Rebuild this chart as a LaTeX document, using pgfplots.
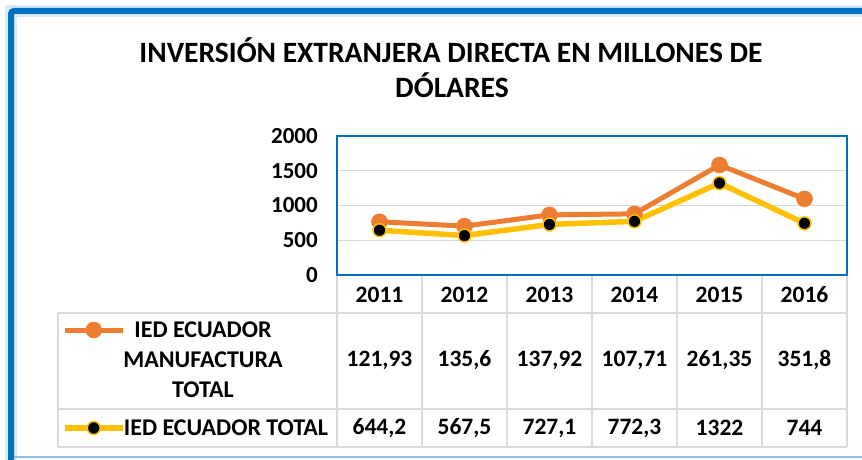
\documentclass[border=0pt]{standalone}
\usepackage{fontspec}
\setmainfont{Carlito}
\usepackage{pgfplots}
\pgfplotsset{compat=1.18}
\definecolor{frameblue}{HTML}{0070C0}
\definecolor{ieorange}{HTML}{ED7D31}
\definecolor{ieyellow}{HTML}{FFC000}
\definecolor{tgray}{HTML}{D9D9D9}
\begin{document}
\begin{tikzpicture}[x=1pt,y=1pt]
\path[use as bounding box] (0,0) rectangle (862,459);
% frame
\draw[frameblue!15, line width=12pt] (11,-5) -- (11,448) -- (870,448);
\draw[frameblue, line width=6pt, rounded corners=3pt] (11,-5) -- (11,448) -- (870,448);
\draw[frameblue!45, line width=1.2pt] (14,2) -- (862,2);
% title
\node[font=\fontsize{29.5}{31}\selectfont\bfseries] at (451,409) {INVERSIÓN EXTRANJERA DIRECTA EN MILLONES DE};
\node[font=\fontsize{29.5}{31}\selectfont\bfseries] at (452,374) {DÓLARES};
% table grid
\begin{scope}[tgray, line width=1.5pt]
\draw (58,146) -- (847,146);
\draw (58,50) -- (847,50);
\draw (58,12) -- (847,12);
\draw (58,146) -- (58,12);
\foreach \xx in {337,422,507,592,677,762,847} {\draw (\xx,184) -- (\xx,12);}
\end{scope}
\begin{axis}[at={(337pt,184pt)}, anchor=south west, scale only axis,
  width=510pt, height=139pt,
  xmin=0.5, xmax=6.5, ymin=0, ymax=2000,
  ytick={0,500,1000,1500,2000}, xtick=\empty,
  ymajorgrids, grid style={tgray, line width=1.2pt},
  axis line style={frameblue, line width=1.5pt},
  tick style={draw=none},
  yticklabel style={font=\fontsize{23}{25}\selectfont\bfseries, inner sep=0pt, xshift=-19pt},
  /pgf/number format/assume math mode=true,
  /pgf/number format/1000 sep={},
  clip=false,
  legend image code/.code={%
    \path[draw=none, fill=none] (0pt,-49pt) rectangle (58pt,49pt);
    \draw[mark repeat=2,mark phase=2,#1] plot coordinates {(0pt,0pt) (29pt,0pt) (58pt,0pt)};
  },
  legend style={at={(axis description cs:-0.53922,-0.04317)}, anchor=north west,
    draw=none, fill=none, inner sep=0pt, outer sep=0pt, row sep=0pt, column sep=0pt,
    nodes={inner sep=0pt, outer sep=0pt}},
]
\addplot[ieorange, line width=5pt, mark=*, mark size=8pt,
  mark options={solid, fill=ieorange, draw=ieorange, line width=0.5pt}]
  coordinates {(1,766.13) (2,703.1) (3,865.02) (4,880.01) (5,1583.35) (6,1095.8)};
\addlegendentry{\mbox{}}
\addplot[ieyellow, line width=5.5pt, mark=*, mark size=6.5pt,
  mark options={solid, fill=black, draw=ieyellow, line width=1.5pt}]
  coordinates {(1,644.2) (2,567.5) (3,727.1) (4,772.3) (5,1322) (6,744)};
\addlegendentry{\mbox{}}
\end{axis}
% table text
\begin{scope}[every node/.style={font=\fontsize{23.5}{25}\selectfont\bfseries}]
\foreach \yy [count=\i from 0] in {2011,2012,2013,2014,2015,2016} {\node at (379.5+85*\i,164) {\yy};}
\node at (379.5,99) {121,93};
\node at (464.5,99) {135,6};
\node at (549.5,99) {137,92};
\node at (634.5,99) {107,71};
\node at (719.5,99) {261,35};
\node at (804.5,99) {351,8};
\node at (379.5,31) {644,2};
\node at (464.5,31) {567,5};
\node at (549.5,31) {727,1};
\node at (634.5,31) {772,3};
\node at (719.5,31) {1322};
\node at (804.5,31) {744};
\end{scope}
\begin{scope}[every node/.style={font=\fontsize{24}{26}\selectfont\bfseries}]
\node at (203,129) {IED ECUADOR};
\node at (203,99) {MANUFACTURA};
\node at (203,69) {TOTAL};
\node at (226,31) {IED ECUADOR TOTAL};
\end{scope}
\end{tikzpicture}
\end{document}
